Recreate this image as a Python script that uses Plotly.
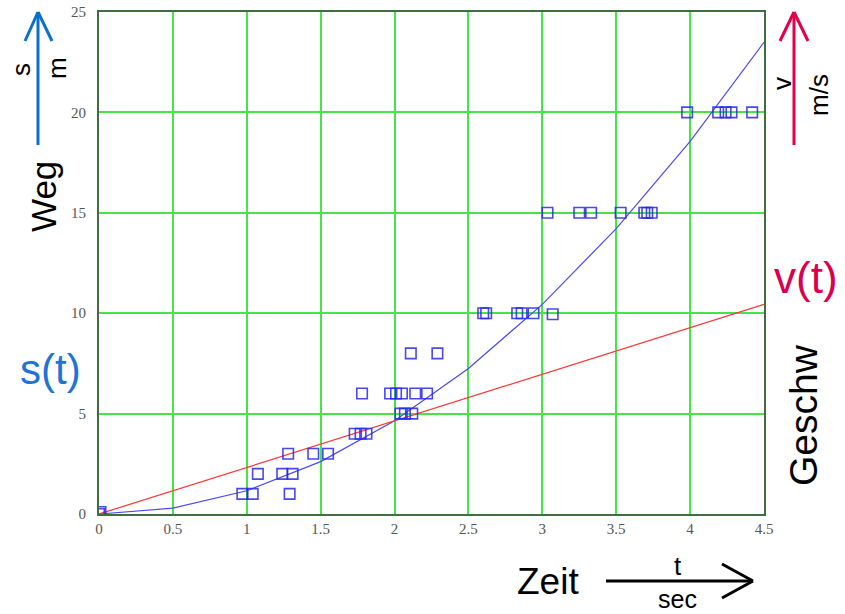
import plotly.graph_objects as go

# Measured distance s (m) at time t (sec)
t_meas = [0.0, 0.01,
          0.97, 1.04, 1.29,
          1.075, 1.24, 1.31,
          1.28, 1.45, 1.55,
          1.73, 1.77, 1.81,
          2.04, 2.07, 2.12,
          1.78, 1.97, 2.01, 2.05, 2.14, 2.22,
          2.11, 2.29,
          2.60, 2.62, 2.83, 2.86, 2.94, 3.07,
          3.035, 3.25, 3.33, 3.53, 3.69, 3.71, 3.74,
          3.98, 4.19, 4.24, 4.28, 4.42]
s_meas = [0.0, 0.1,
          1, 1, 1,
          2, 2, 2,
          3, 3, 3,
          4, 4, 4,
          5, 5, 5,
          6, 6, 6, 6, 6, 6,
          8, 8,
          10, 10, 10, 10, 10, 9.95,
          15, 15, 15, 15, 15, 15, 15,
          20, 20, 20, 20, 20]

# Model curve s(t), sampled every 0.5 s
t_model = [0, 0.5, 1.0, 1.5, 2.0, 2.5, 3.0, 3.5, 4.0, 4.5]
s_model = [0, 0.29, 1.16, 2.61, 4.64, 7.25, 10.44, 14.21, 18.56, 23.49]

# Velocity v(t)
t_vel = [0, 4.5]
v_vel = [0, 10.44]

x_ticks = [0, 0.5, 1, 1.5, 2, 2.5, 3, 3.5, 4, 4.5]
y_ticks = [0, 5, 10, 15, 20, 25]

W, H = 845, 614
L, R, T, B = 99, 81, 12, 100
PW, PH = W - L - R, H - T - B


def px(x):
    return (x - L) / PW


def py(y):
    return (H - B - y) / PH


fig = go.Figure()
fig.add_trace(go.Scatter(x=t_model, y=s_model, mode="lines",
                         line=dict(color="#4a4af2", width=1.2), hoverinfo="skip"))
fig.add_trace(go.Scatter(x=t_vel, y=v_vel, mode="lines",
                         line=dict(color="#ff3434", width=1.2), hoverinfo="skip"))
fig.add_trace(go.Scatter(x=t_meas, y=s_meas, mode="markers",
                         marker=dict(symbol="square-open", size=10.5,
                                     color="rgba(40,40,235,0.85)",
                                     line=dict(width=1.6))))

tick_font = dict(family="Liberation Serif, Times New Roman, serif", size=15, color="#555555")
frame = "#3f6e3f"
grid = "#44e544"

fig.update_xaxes(range=[0, 4.5], tickvals=x_ticks, ticktext=[f"{v:g}" for v in x_ticks],
                 showgrid=True, gridcolor=grid, gridwidth=1.5, zeroline=False,
                 showline=True, linecolor=frame, linewidth=2, mirror=True,
                 tickfont=tick_font, ticks="", ticklabelstandoff=0, automargin=False)
fig.update_yaxes(range=[0, 25], tickvals=y_ticks,
                 showgrid=True, gridcolor=grid, gridwidth=1.5, zeroline=False,
                 showline=True, linecolor=frame, linewidth=2, mirror=True,
                 tickfont=tick_font, ticks="", ticklabelstandoff=8, automargin=False)

sans = "Liberation Sans, Arial, sans-serif"
blue_arrow = "#0b6fcb"
blue_text = "#1e74d4"
red_arrow = "#e0004d"
red_text = "#d8004f"


def label(text, x, y, size, color="black", angle=0):
    fig.add_annotation(text=text, x=px(x), y=py(y), xref="paper", yref="paper",
                       showarrow=False, xanchor="center", yanchor="middle",
                       textangle=angle, borderpad=0,
                       font=dict(family=sans, size=size, color=color))


def seg(x0, y0, x1, y1, color, width=3):
    fig.add_shape(type="line", xref="paper", yref="paper",
                  x0=px(x0), y0=py(y0), x1=px(x1), y1=py(y1),
                  line=dict(color=color, width=width))


# left: distance arrow
seg(38, 145, 38, 12, blue_arrow)
seg(38, 12, 25, 41, blue_arrow)
seg(38, 12, 52, 41, blue_arrow)
label("s", 21, 70, 26, angle=-90)
label("m", 57, 68, 26, angle=-90)
label("Weg", 43, 197, 35, angle=-90)
label("s(t)", 50, 369, 42, color=blue_text)

# right: velocity arrow
seg(794, 145, 794, 12, red_arrow)
seg(794, 12, 780, 41, red_arrow)
seg(794, 12, 808, 41, red_arrow)
label("v", 782, 84, 26, angle=-90)
label("m/s", 819, 95, 26, angle=-90)
label("v(t)", 806, 277, 44, color=red_text)
label("Geschw", 803, 415, 39, angle=-90)

# bottom: time arrow
seg(606, 581, 753, 581, "black")
seg(753, 581, 722, 564, "black")
seg(753, 581, 722, 598, "black")
label("Zeit", 548, 582, 37)
label("t", 678, 566, 26)
label("sec", 677, 599, 25)

fig.update_layout(width=W, height=H, autosize=False,
                  margin=dict(l=L, r=R, t=T, b=B, pad=0),
                  paper_bgcolor="white", plot_bgcolor="white",
                  showlegend=False)

fig.write_html("out.html")
